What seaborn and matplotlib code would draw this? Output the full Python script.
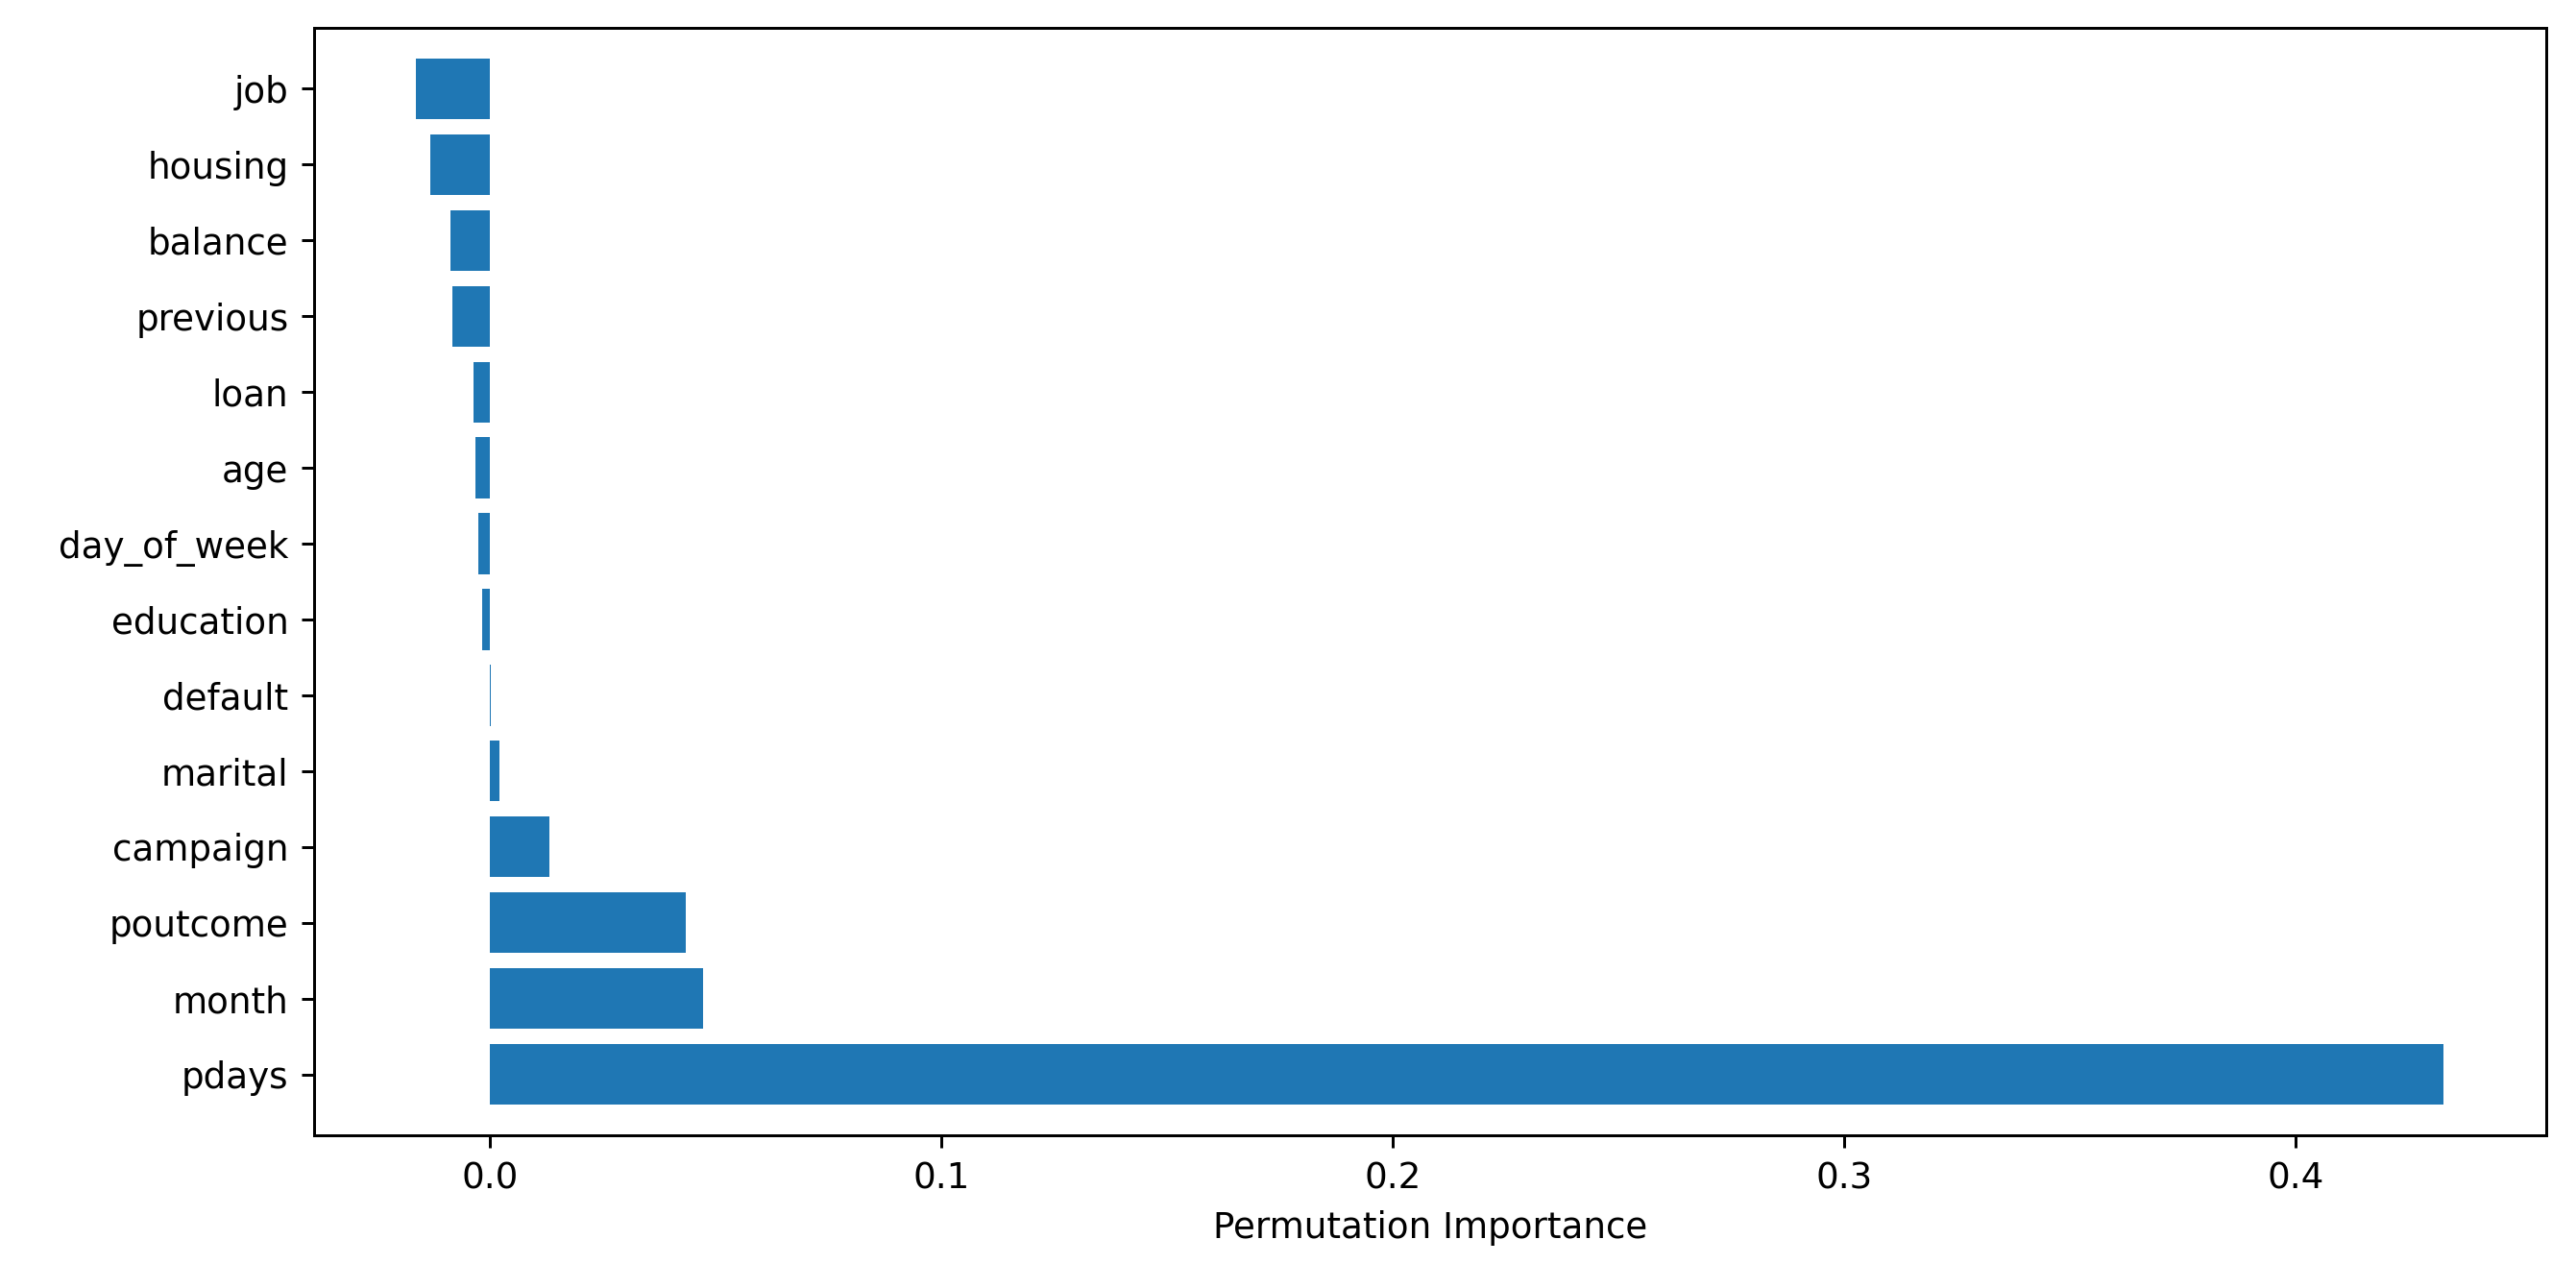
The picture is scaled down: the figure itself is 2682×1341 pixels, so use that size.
import matplotlib
matplotlib.use("Agg")
import matplotlib.pyplot as plt
import seaborn as sns
import pandas as pd

features = ["job", "housing", "balance", "previous", "loan", "age", "day_of_week",
            "education", "default", "marital", "campaign", "poutcome", "month", "pdays"]
importance = [-0.0164, -0.0131, -0.0087, -0.0084, -0.0036, -0.0033, -0.0025,
              -0.0018, 0.0003, 0.0022, 0.0131, 0.0433, 0.0473, 0.4327]

df = pd.DataFrame({"feature": features, "importance": importance})

fig = plt.figure(figsize=(10.0, 5.0), dpi=268.2)
ax = fig.add_axes([191/1568, 1 - 691/784, (1550-191)/1568, (691-17)/784])
sns.barplot(data=df, x="importance", y="feature", order=features, orient="h",
            color="#1f77b4", saturation=1, width=0.8, ax=ax)
ax.set_xlim(-0.0390, 0.4555)
ax.set_ylim(len(features) - 0.5 + 0.3, -0.5 - 0.3)
ax.set_xlabel("Permutation Importance")
ax.set_ylabel("")
fig.savefig("out.png", dpi=268.2)
